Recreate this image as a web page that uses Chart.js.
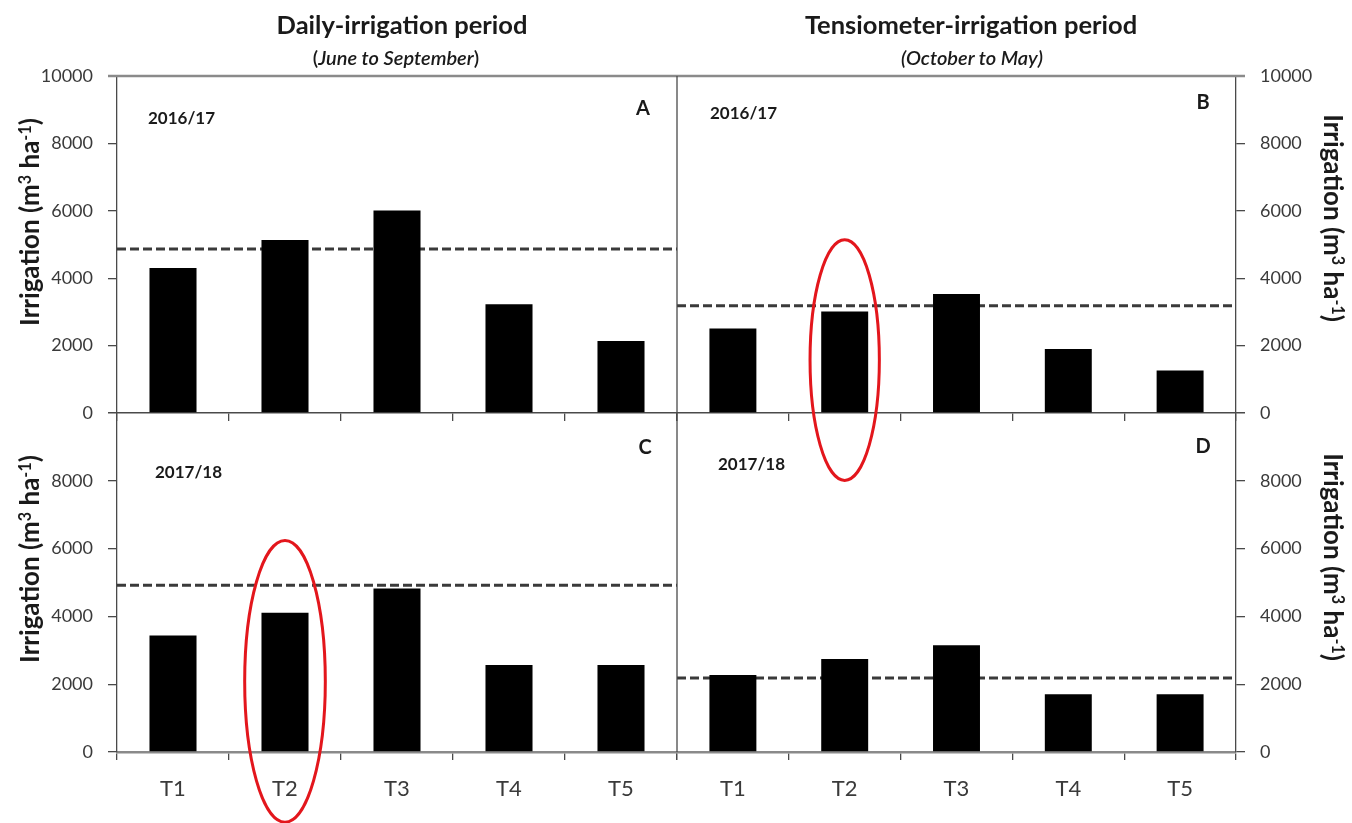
<!DOCTYPE html>
<html>
<head>
<meta charset="utf-8">
<title>Irrigation per treatment</title>
<script src="https://cdn.jsdelivr.net/npm/chart.js@4.4.0/dist/chart.umd.min.js"></script>
<style>
    html, body { margin: 0; padding: 0; background: #fff; }
    #stage { position: relative; width: 1352px; height: 823px; overflow: hidden; font-family: Lato, "Open Sans", sans-serif; color: #1a1a1a; }
    #stage canvas { position: absolute; left: 0; top: 0; }
    .txt { position: absolute; white-space: nowrap; line-height: 1; transform: translate(-50%, -50%); }
    .title { font-size: 25.5px; font-weight: 700; }
    .sub { font-size: 20px; font-weight: 600; }
    .letter { font-size: 20px; font-weight: 700; }
    .season { font-size: 17px; font-weight: 700; transform: translateY(-50%); }
    .ytitle { font-size: 26px; font-weight: 700; }
    .ytitle.left { transform: translate(-50%, -50%) rotate(-90deg); }
    .ytitle.right { transform: translate(-50%, -50%) rotate(90deg); }
    .sup { font-size: 0.62em; vertical-align: 0.5em; }
</style>
</head>
<body>
<div id="stage">
    <canvas id="panel-a" width="1352" height="823"></canvas>
    <canvas id="panel-b" width="1352" height="823"></canvas>
    <canvas id="panel-c" width="1352" height="823"></canvas>
    <canvas id="panel-d" width="1352" height="823"></canvas>

    <div class="txt title" style="left:402px; top:25px;">Daily-irrigation period</div>
    <div class="txt sub" style="left:396px; top:57px;">(<i>June to September</i>)</div>
    <div class="txt title" style="left:971px; top:25px;">Tensiometer-irrigation period</div>
    <div class="txt sub" style="left:972px; top:57px;"><i>(October to May)</i></div>

    <div class="txt letter" style="left:643px; top:107px;">A</div>
    <div class="txt letter" style="left:1203px; top:101px;">B</div>
    <div class="txt letter" style="left:645px; top:446px;">C</div>
    <div class="txt letter" style="left:1203px; top:445px;">D</div>

    <div class="txt season" style="left:148px; top:117px;">2016/17</div>
    <div class="txt season" style="left:710px; top:112px;">2016/17</div>
    <div class="txt season" style="left:155px; top:471px;">2017/18</div>
    <div class="txt season" style="left:718px; top:463px;">2017/18</div>

    <div class="txt ytitle left" style="left:29px; top:222px;">Irrigation (m<span class="sup">3</span> ha<span class="sup">-1</span>)</div>
    <div class="txt ytitle left" style="left:29px; top:559px;">Irrigation (m<span class="sup">3</span> ha<span class="sup">-1</span>)</div>
    <div class="txt ytitle right" style="left:1334px; top:218px;">Irrigation (m<span class="sup">3</span> ha<span class="sup">-1</span>)</div>
    <div class="txt ytitle right" style="left:1334px; top:557px;">Irrigation (m<span class="sup">3</span> ha<span class="sup">-1</span>)</div>
</div>

<script>
// Irrigation volumes (m3/ha) per treatment

const categories = ['T1', 'T2', 'T3', 'T4', 'T5'];

// A: daily irrigation 2016/17, B: tensiometer 2016/17
const dailyIrrigation1617 = [4300, 5130, 6010, 3230, 2140];
const tensioIrrigation1617 = [2510, 3010, 3530, 1900, 1260];

// C: daily irrigation 2017/18, D: tensiometer 2017/18
const dailyIrrigation1718 = [3440, 4110, 4820, 2570, 2570];
const tensioIrrigation1718 = [2270, 2740, 3150, 1700, 1700];

// dashed reference levels, one per panel (A, B, C, D)
const referenceLevels = [4870, 3180, 4920, 2180];

const yTicks = [0, 2000, 4000, 6000, 8000, 10000];

const AXIS_COLOR = '#4a4a4a';
const TICK_FONT = { family: 'Lato', size: 18 };

// Red ellipse drawn round a highlighted category (values in axis units)
const highlightPlugin = {
    id: 'highlight',
    afterDraw(chart, args, opts) {
        if (!opts.category) return;
        const { ctx } = chart;
        const x = chart.scales.x;
        const y = chart.scales.y;
        const i = categories.indexOf(opts.category);
        const cx = x.getPixelForValue(i);
        const step = x.getPixelForValue(1) - x.getPixelForValue(0);
        const top = y.getPixelForValue(opts.top);
        const bottom = y.getPixelForValue(opts.bottom);
        ctx.save();
        ctx.beginPath();
        ctx.ellipse(cx, (top + bottom) / 2, step * opts.halfWidth, (bottom - top) / 2, 0, 0, Math.PI * 2);
        ctx.strokeStyle = '#e3161c';
        ctx.lineWidth = 3;
        ctx.stroke();
        ctx.restore();
    }
};

// Plot frame: grey top edge on upper panels, divider on right panels
const framePlugin = {
    id: 'frame',
    afterDraw(chart, args, opts) {
        const { ctx, chartArea: a } = chart;
        ctx.save();
        if (opts.top) {
            ctx.strokeStyle = '#8a8a8a';
            ctx.lineWidth = 2.5;
            ctx.beginPath();
            ctx.moveTo(a.left - (opts.left ? 0 : 9), a.top);
            ctx.lineTo(a.right + (opts.left ? 9 : 0), a.top);
            ctx.stroke();
        }
        if (opts.left) {
            ctx.strokeStyle = AXIS_COLOR;
            ctx.lineWidth = 1.3;
            ctx.beginPath();
            ctx.moveTo(a.left, a.top);
            ctx.lineTo(a.left, a.bottom);
            ctx.stroke();
        }
        ctx.restore();
    }
};

function buildPanel(canvasId, values, refLevel, side, row, highlight) {
    const isRight = side === 'right';
    const isBottom = row === 'bottom';

    return new Chart(document.getElementById(canvasId), {
        type: 'bar',
        data: {
            labels: categories,
            datasets: [
                {
                    data: values,
                    backgroundColor: '#000',
                    borderWidth: 0,
                    grouped: false,
                    barPercentage: 0.42,
                    categoryPercentage: 1,
                    order: 0
                },
                {
                    type: 'line',
                    xAxisID: 'xr',
                    data: [{ x: 0, y: refLevel }, { x: 1, y: refLevel }],
                    borderColor: '#3a3a3a',
                    borderWidth: 3,
                    borderDash: [9, 4],
                    pointRadius: 0,
                    fill: false,
                    order: 1
                }
            ]
        },
        plugins: [highlightPlugin, framePlugin],
        options: {
            responsive: false,
            animation: false,
            devicePixelRatio: 1,
            layout: {
                padding: {
                    left: isRight ? 677 : 0,
                    right: isRight ? 0 : 675,
                    top: isBottom ? 413 : 76,
                    bottom: isBottom ? 0 : 400
                }
            },
            plugins: {
                legend: { display: false },
                tooltip: { enabled: false },
                highlight: highlight || {},
                frame: { top: !isBottom, left: isRight }
            },
            scales: {
                x: {
                    type: 'category',
                    grid: {
                        offset: true,
                        drawOnChartArea: false,
                        tickLength: 8,
                        color: AXIS_COLOR,
                        lineWidth: 1.3
                    },
                    border: {
                        color: isBottom ? '#8a8a8a' : AXIS_COLOR,
                        width: isBottom ? 2.5 : 1.5
                    },
                    ticks: {
                        display: isBottom,
                        color: '#3a3a3a',
                        font: { family: 'Lato', size: 22 },
                        padding: 16
                    },
                    afterFit: (scale) => { scale.height = isBottom ? 71 : 10; }
                },
                xr: { type: 'linear', display: false, offset: false, min: 0, max: 1 },
                y: {
                    position: isRight ? 'right' : 'left',
                    min: 0,
                    max: 10000,
                    afterBuildTicks: (scale) => { scale.ticks = yTicks.map(v => ({ value: v })); },
                    grid: {
                        drawOnChartArea: false,
                        tickLength: 9,
                        color: AXIS_COLOR,
                        lineWidth: 1.3
                    },
                    border: { color: AXIS_COLOR, width: 1.3 },
                    ticks: {
                        color: '#3a3a3a',
                        font: TICK_FONT,
                        padding: 15,
                        callback: (v) => (isBottom && v === 10000) ? '' : String(v)
                    },
                    afterFit: (scale) => { scale.width = isRight ? 116 : 117; }
                }
            }
        }
    });
}

function init() {
    buildPanel('panel-a', dailyIrrigation1617, referenceLevels[0], 'left', 'top', null);
    buildPanel('panel-b', tensioIrrigation1617, referenceLevels[1], 'right', 'top',
        { category: 'T2', top: 5140, bottom: -2000, halfWidth: 0.31 });
    buildPanel('panel-c', dailyIrrigation1718, referenceLevels[2], 'left', 'bottom',
        { category: 'T2', top: 6240, bottom: -2070, halfWidth: 0.36 });
    buildPanel('panel-d', tensioIrrigation1718, referenceLevels[3], 'right', 'bottom', null);
}

document.fonts.load('18px Lato').then(init, init);
</script>
</body>
</html>
